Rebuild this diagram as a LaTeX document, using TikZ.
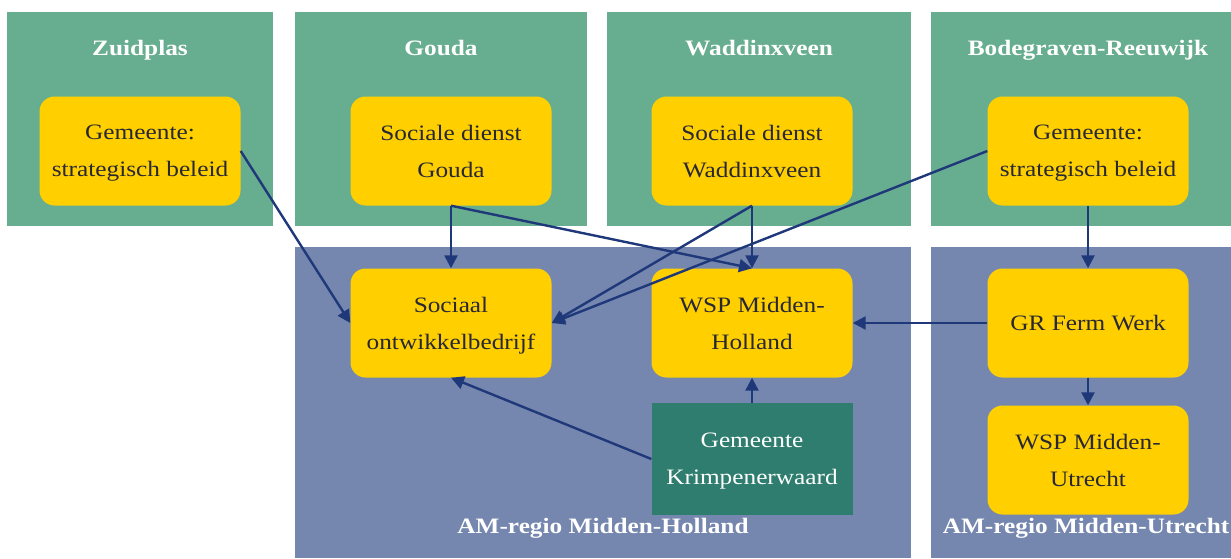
\documentclass[tikz,border=0pt]{standalone}
\usepackage{fontspec}
\setmainfont[FakeStretch=1.15]{Liberation Serif}
\usetikzlibrary{arrows.meta}
\definecolor{gemgreen}{RGB}{103,173,143}
\definecolor{regioblue}{RGB}{117,135,174}
\definecolor{orgyellow}{RGB}{255,207,0}
\definecolor{krimpgreen}{RGB}{46,125,110}
\definecolor{linknavy}{RGB}{31,56,122}
\definecolor{orgtext}{RGB}{40,40,52}

\begin{document}
\begin{tikzpicture}[x=1pt,y=-1pt,
  title/.style={text=white,font=\fontsize{22}{26}\selectfont\bfseries,text height=15pt,text depth=5pt},
  orgbox/.style={fill=orgyellow,rounded corners=15pt,minimum width=201pt,minimum height=109pt,
    align=center,text=orgtext,font=\fontsize{22}{37}\selectfont,text depth=0pt},
  krimpbox/.style={fill=krimpgreen,minimum width=201pt,minimum height=112pt,
    align=center,text=white,font=\fontsize{22}{37}\selectfont,text depth=0pt},
  link/.style={draw=linknavy,line width=2.4pt,-{Triangle[length=13pt,width=13pt]}}]
            \useasboundingbox (0,0) rectangle (1231,558);
            \fill[gemgreen](7,12) rectangle (273,226);
            \fill[gemgreen](295,12) rectangle (587,226);
            \fill[gemgreen](607,12) rectangle (911,226);
            \fill[gemgreen](931,12) rectangle (1231,226);
            \fill[regioblue](295,247) rectangle (911,558);
            \fill[regioblue](931,247) rectangle (1231,558);
            \node[title] (tzuidplas) at (140,50){Zuidplas};
            \node[title] (tgouda) at (441,50){Gouda};
            \node[title] (twaddinx) at (759,50){Waddinxveen};
            \node[title] (tbodegraven) at (1088,50){Bodegraven-Reeuwijk};
            \node[title] (tregiomh) at (603,528){AM-regio Midden-Holland};
            \node[title] (tregiomu) at (1086,528){AM-regio Midden-Utrecht};

            \node[orgbox] (zuidgem) at (140,151){Gemeente:\\strategisch beleid};
            \node[orgbox] (goudasd) at (451,151){Sociale dienst\\Gouda};
            \node[orgbox] (waddsd) at (752,151){Sociale dienst\\Waddinxveen};
            \node[orgbox] (bodegem) at (1088,151){Gemeente:\\strategisch beleid};
            \node[orgbox] (sob) at (451,323){Sociaal\\ontwikkelbedrijf};
            \node[orgbox] (wspmh) at (752,323){WSP Midden-\\Holland};
            \node[orgbox] (fermwerk) at (1088,323){GR Ferm Werk};
            \node[orgbox] (wspmu) at (1088,460){WSP Midden-\\Utrecht};
            \node[krimpbox] (krimpen) at (752,459){Gemeente\\Krimpenerwaard};

            \draw[link] (zuidgem.east) -- (sob.west);
            \draw[link] (goudasd.south) -- (sob.north);
            \draw[link] (goudasd.south) -- (wspmh.north);
            \draw[link] (waddsd.south) -- (wspmh.north);
            \draw[link] (waddsd.south) -- (sob.east);
            \draw[link] (bodegem.west) -- (sob.east);
            \draw[link] (bodegem.south) -- (fermwerk.north);
            \draw[link] (fermwerk.west) -- (wspmh.east);
            \draw[link] (fermwerk.south) -- (wspmu.north);
            \draw[link] (krimpen.north) -- (wspmh.south);
            \draw[link] (krimpen.west) -- (sob.south);
        \end{tikzpicture}
\end{document}
